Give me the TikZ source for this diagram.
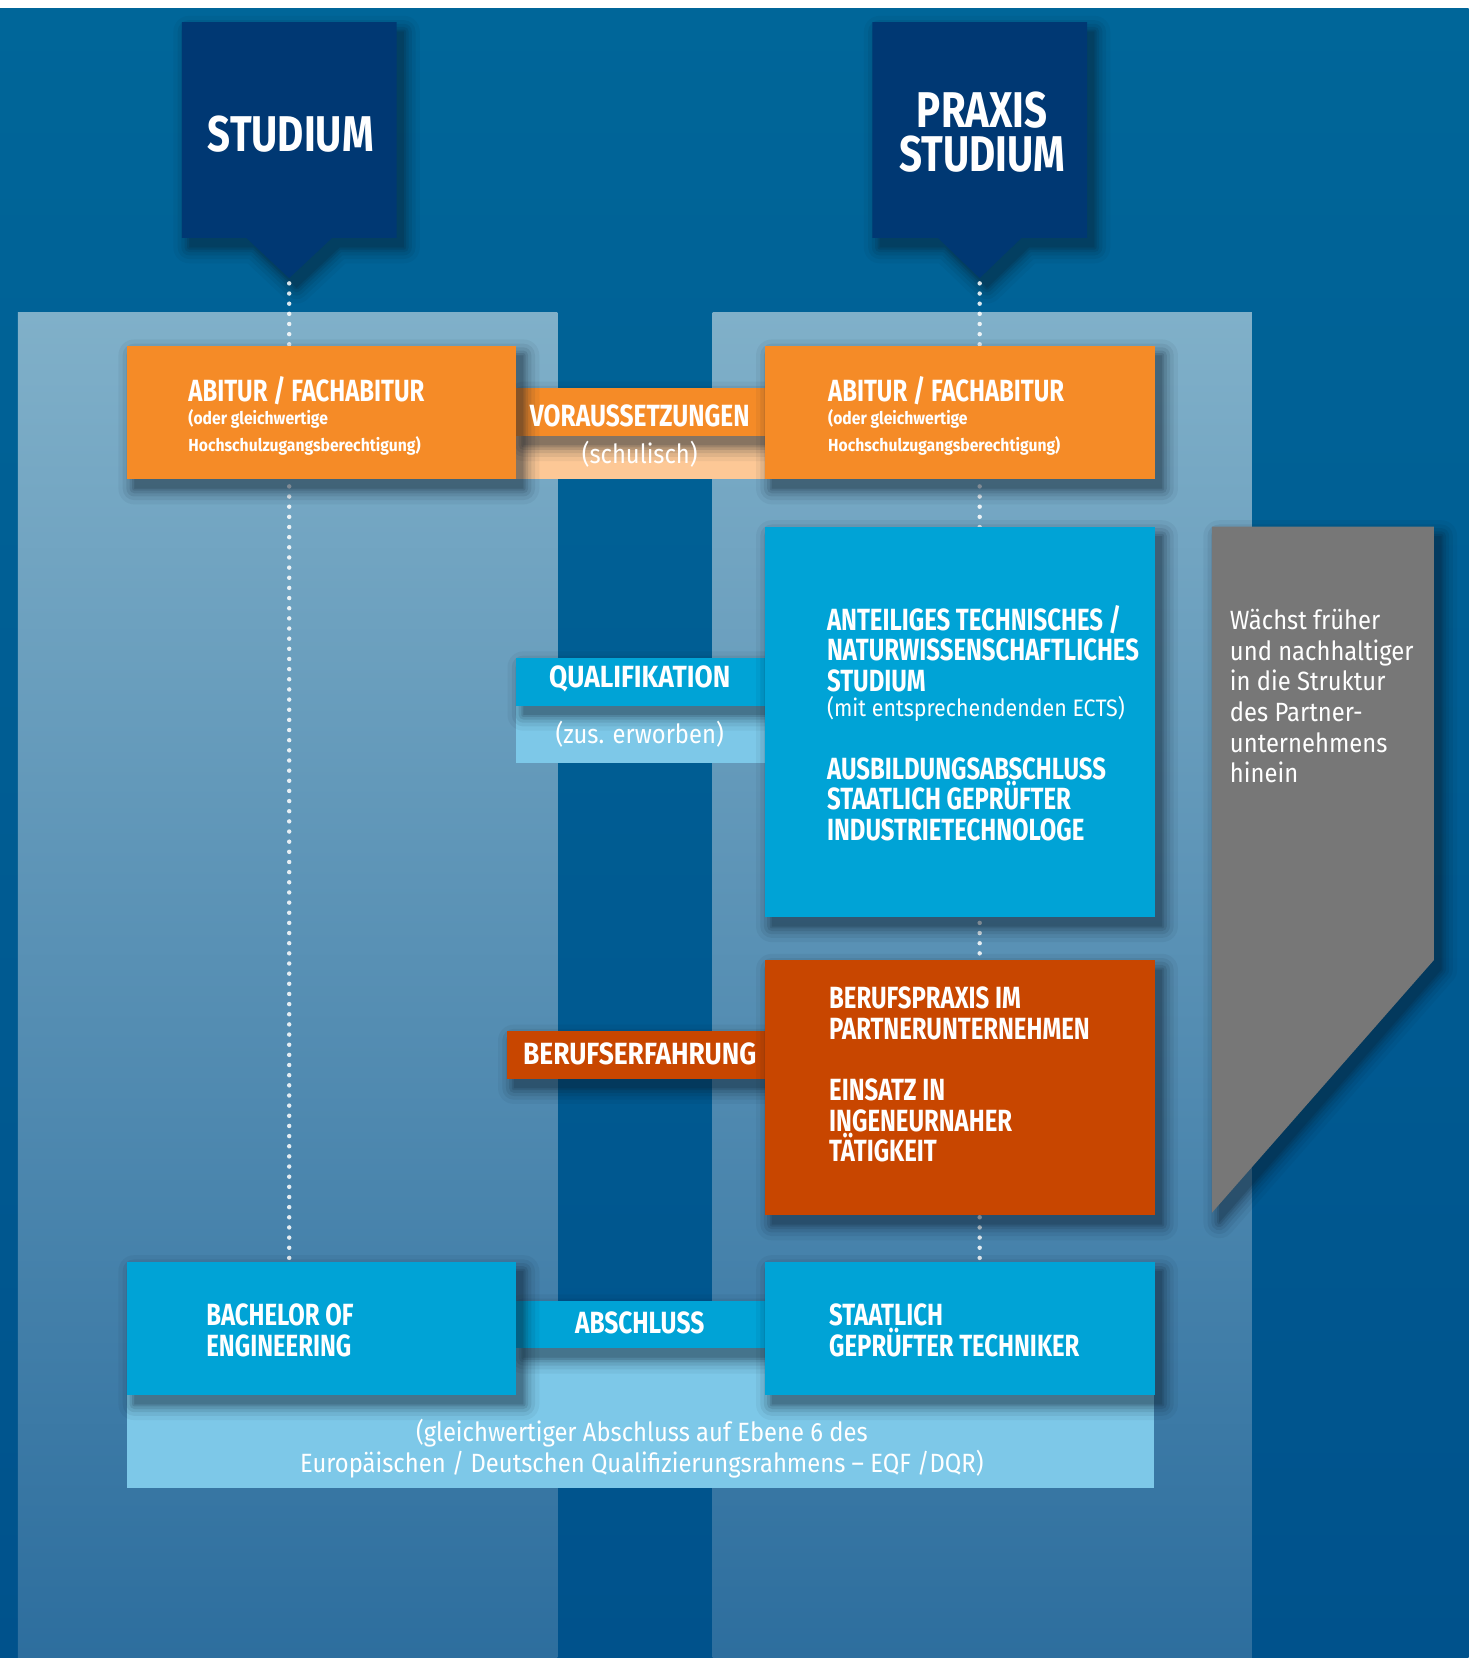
\documentclass[tikz,border=0pt]{standalone}
\usepackage{fontspec}
\setmainfont{Fira Sans}
\newfontfamily\hb[FakeStretch=0.78]{Fira Sans}
\newfontfamily\hc[FakeStretch=0.8]{Fira Sans}
\newfontfamily\hm[FakeStretch=0.86]{Fira Sans}
\newfontfamily\hr[FakeStretch=0.9]{Fira Sans}
\definecolor{bgtop}{RGB}{0,102,153}
\definecolor{bgbot}{RGB}{0,82,140}
\definecolor{pantop}{RGB}{128,176,201}
\definecolor{panbot}{RGB}{45,110,158}
\definecolor{navy}{RGB}{0,56,115}
\definecolor{orng}{RGB}{245,139,39}
\definecolor{lorng}{RGB}{253,200,150}
\definecolor{blu}{RGB}{0,163,214}
\definecolor{lblu}{RGB}{125,200,232}
\definecolor{rust}{RGB}{200,70,0}
\definecolor{grey}{RGB}{119,119,119}
\definecolor{shadowc}{RGB}{10,25,40}
\tikzset{
  box/.style={rectangle, fill=#1, draw=none, inner sep=0pt, anchor=north west},
  hdtxt/.style={text=white, inner sep=0pt, align=left, anchor=north west, font=\hb\bfseries\fontsize{29}{29}\selectfont},
  smtxt/.style={text=white, inner sep=0pt, align=left, anchor=north west, font=\hr\bfseries\fontsize{16.5}{25}\selectfont},
  bartxt/.style={text=white, inner sep=0pt, font=\hc\bfseries\fontsize{29}{29}\selectfont},
  barwide/.style={text=white, inner sep=0pt, font=\hm\bfseries\fontsize{29}{29}\selectfont},
  subtxt/.style={text=white, inner sep=0pt, font=\hr\fontsize{25}{29}\selectfont},
  bantxt/.style={text=white, inner sep=0pt, text height=33pt, text depth=0pt, font=\hc\bfseries\fontsize{47.5}{41}\selectfont},
  dotline/.style={white, opacity=0.85, line width=4.2pt, line cap=round, dash pattern=on 0pt off 9.6pt},
}
% soft drop shadow of a closed path
\newcommand{\softshadow}[1]{%
  \foreach \w/\o in {30/0.05,22/0.07,15/0.09,9/0.11,4/0.13,0.1/0.15}{%
    \begin{scope}[transparency group, opacity=\o, shift={(7,9)}]
      \filldraw[shadowc, line width=\w pt, line join=round] #1;
    \end{scope}}}
\newcommand{\bigtx}{\hb\fontsize{29}{29}\selectfont}
\begin{document}
\begin{tikzpicture}[x=1pt,y=-1pt]
\useasboundingbox (0,0) rectangle (1389,1568);
\fill[white] (0,0) rectangle (1389,1568);
\shade[top color=bgtop, bottom color=bgbot] (0,8.5) rectangle (1389,1568);
\shade[top color=pantop, bottom color=panbot] (17,296) rectangle (527,1568);
\shade[top color=pantop, bottom color=panbot] (674,296) rectangle (1184,1568);

% banners
\softshadow{(172,21) -- (375,21) -- (375,225) -- (314,225) -- (273.5,263) -- (233,225) -- (172,225) -- cycle}
\fill[navy] (172,21) -- (375,21) -- (375,225) -- (314,225) -- (273.5,263) -- (233,225) -- (172,225) -- cycle;
\node[bantxt] (studL) at (275,127) {STUDIUM};
\coordinate (tipL) at (273.5,268);
\softshadow{(825,21) -- (1028,21) -- (1028,225) -- (966,225) -- (926.5,263) -- (887,225) -- (825,225) -- cycle}
\fill[navy] (825,21) -- (1028,21) -- (1028,225) -- (966,225) -- (926.5,263) -- (887,225) -- (825,225) -- cycle;
\node[bantxt] (studR1) at (929,104.5) {PRAXIS};
\node[bantxt] (studR2) at (929,145.5) {STUDIUM};
\coordinate (tipR) at (926.5,268);

% light sub areas
\node[box=lorng, minimum width=235, minimum height=41] (vorSub) at (488,412) {};
\node[box=lblu, minimum width=235, minimum height=54] (qualSub) at (488,667) {};
\node[box=lblu, minimum width=971, minimum height=137] (absSub) at (120,1270) {};

% bars
\softshadow{(488,367) rectangle ++(235,45)}
\node[box=orng, minimum width=235, minimum height=45] (vorBar) at (488,367) {};
\softshadow{(488,622) rectangle ++(235,45)}
\node[box=blu, minimum width=235, minimum height=45] (qualBar) at (488,622) {};
\softshadow{(479,975) rectangle ++(244,45)}
\node[box=rust, minimum width=244, minimum height=45] (berBar) at (479,975) {};
\softshadow{(488,1230) rectangle ++(235,45)}
\node[box=blu, minimum width=235, minimum height=45] (absBar) at (488,1230) {};

% dotted connectors (ends hidden under the bottom boxes)
\draw[dotline] (tipL) -- (tipL |- absBar.north);
\draw[dotline] (tipR) -- (tipR |- absBar.north);

% boxes
\softshadow{(120,327) rectangle ++(368,126)}
\node[box=orng, minimum width=368, minimum height=126] (abiL) at (120,327) {};
\softshadow{(723,327) rectangle ++(369,126)}
\node[box=orng, minimum width=369, minimum height=126] (abiR) at (723,327) {};
\softshadow{(723,498) rectangle ++(369,369)}
\node[box=blu, minimum width=369, minimum height=369] (quaR) at (723,498) {};
\softshadow{(723,908) rectangle ++(369,241)}
\node[box=rust, minimum width=369, minimum height=241] (berR) at (723,908) {};
\softshadow{(120,1193) rectangle ++(368,126)}
\node[box=blu, minimum width=368, minimum height=126] (bachL) at (120,1193) {};
\softshadow{(723,1193) rectangle ++(369,126)}
\node[box=blu, minimum width=369, minimum height=126] (staatR) at (723,1193) {};

% grey arrow
\softshadow{(1146,498) -- (1356,498) -- (1356,908) -- (1146,1147) -- cycle}
\fill[grey] (1146,498) -- (1356,498) -- (1356,908) -- (1146,1147) -- cycle;

% texts
\node[smtxt] (abiLt) at (178,356) {{\bigtx ABITUR / FACHABITUR}\\[-3pt](oder gleichwertige\\Hochschulzugangsberechtigung)};
\node[smtxt] (abiRt) at (783,356) {{\bigtx ABITUR / FACHABITUR}\\[-3pt](oder gleichwertige\\Hochschulzugangsberechtigung)};
\node[bartxt] (vorT) at (605,393) {VORAUSSETZUNGEN};
\node[subtxt] (vorS) at (605,430) {(schulisch)};
\node[barwide] (qualT) at (605,642) {QUALIFIKATION};
\node[subtxt] (qualS) at (605,694) {(zus. erworben)};
\node[barwide] (berT) at (605,997) {BERUFSERFAHRUNG};
\node[bartxt] (absT) at (605,1251) {ABSCHLUSS};

\node[hdtxt] (quaRt) at (782,572) {ANTEILIGES TECHNISCHES /\\NATURWISSENSCHAFTLICHES\\STUDIUM\\[-5pt]{\hr\mdseries\fontsize{22.5}{24}\selectfont (mit entsprechendenden ECTS)}\\[30pt]AUSBILDUNGSABSCHLUSS\\STAATLICH GEPRÜFTER\\INDUSTRIETECHNOLOGE};
\node[hdtxt] (berRt) at (784,933) {BERUFSPRAXIS IM\\PARTNERUNTERNEHMEN\\[29pt]EINSATZ IN\\INGENEURNAHER\\TÄTIGKEIT};
\node[hdtxt] (bachLt) at (195,1233) {BACHELOR OF\\ENGINEERING};
\node[hdtxt] (staatRt) at (784,1233) {STAATLICH\\GEPRÜFTER TECHNIKER};
\node[subtxt, align=center] (absN) at (607,1370) {(gleichwertiger Abschluss auf Ebene 6 des\\Europäischen / Deutschen Qualifizierungsrahmens – EQF /DQR)};
\node[text=white, inner sep=0pt, align=left, anchor=north west, font=\hr\fontsize{25}{29}\selectfont] (greyT) at (1163,576) {Wächst früher\\und nachhaltiger\\in die Struktur\\des Partner-\\unternehmens\\hinein};
\end{tikzpicture}
\end{document}
